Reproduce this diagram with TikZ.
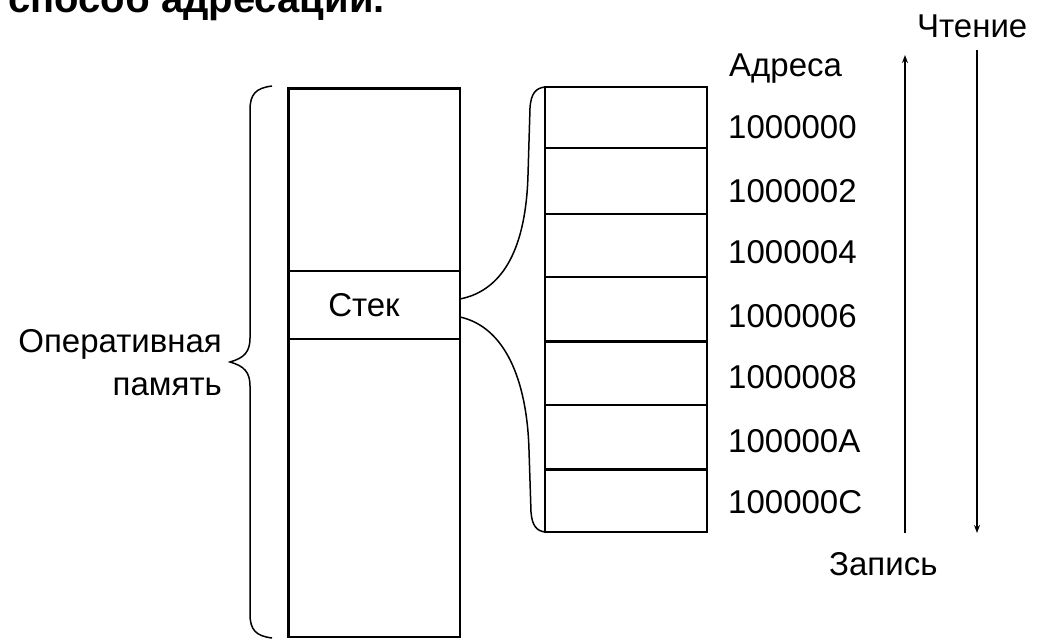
\documentclass[tikz,border=0pt]{standalone}
\usepackage{fontspec}
\setmainfont{Liberation Sans}
\usetikzlibrary{arrows.meta}
\begin{document}
\begin{tikzpicture}[x=1pt,y=-1pt,
  lbl/.style={inner sep=0pt, font=\fontsize{33}{36}\selectfont},
  thinln/.style={line width=1.4pt},
  heavy/.style={line width=3pt},
  brace/.style={line width=1.5pt},
  arr/.style={line width=1.4pt, -{Stealth[length=8pt,width=6pt]}}
]
\useasboundingbox (0,0) rectangle (1037,640);
\fill[white] (0,0) rectangle (1037,640);
% title (cut at the top)
\begin{scope}
\clip (0,0) rectangle (1037,640);
\node[anchor=base east, inner sep=0pt, font=\bfseries\fontsize{40}{44}\selectfont] (title) at (385,12) {способ адресации.};
\end{scope}
% memory column
\coordinate (mtl) at (288,88);
\coordinate (mbr) at (460,637);
\draw[thinln] (mtl) rectangle (mbr);
\draw[heavy] (288,637) -- (mtl) -- (460,88);
\draw[thinln] (288,271) -- (460,271);
\draw[thinln] (288,339) -- (460,339);
\node[lbl, anchor=base] (stek) at (364,316) {Стек};
% left brace
\coordinate (lb1) at (272,86);
\coordinate (lbtip) at (230,362);
\coordinate (lb2) at (272,638);
\draw[brace] (lb1) .. controls (256,88) and (250,94) .. (250,110) -- (250,338)
  .. controls (250,352) and (244,358) .. (lbtip)
  .. controls (244,366) and (250,372) .. (250,386) -- (250,614)
  .. controls (250,630) and (256,636) .. (lb2);
\node[lbl, anchor=base east] (op) at (222,352) {Оперативная};
\node[lbl, anchor=base east] (pam) at (222,395) {память};
% stack detail column
\coordinate (stl) at (545,87);
\coordinate (sbr) at (707,532);
\draw[thinln] (stl) rectangle (sbr);
\foreach \y in {148,214,277,405} \draw[thinln] (545,\y) -- (707,\y);
\foreach \y in {341,469} \draw[heavy] (545,\y) -- (707,\y);
% split brace from stack to detail
\coordinate (sr1) at (460,299);
\coordinate (sr2) at (460,317);
\coordinate (dt) at (545,87);
\coordinate (db) at (545,532);
\draw[brace] (sr1) .. controls (505,290) and (526,245) .. (528,175) -- (530,108)
  .. controls (531,93) and (536,88) .. (dt);
\draw[brace] (sr2) .. controls (505,327) and (527,380) .. (529,450) -- (531,512)
  .. controls (532,526) and (537,531) .. (db);
% addresses
\node[lbl, anchor=base west] (adr) at (729,76) {Адреса};
\node[lbl, anchor=base west] (a0) at (728,138) {1000000};
\node[lbl, anchor=base west] (a2) at (728,202) {1000002};
\node[lbl, anchor=base west] (a4) at (728,263) {1000004};
\node[lbl, anchor=base west] (a6) at (728,327) {1000006};
\node[lbl, anchor=base west] (a8) at (728,388) {1000008};
\node[lbl, anchor=base west] (aA) at (728,452) {100000A};
\node[lbl, anchor=base west] (aC) at (728,513) {100000C};
% arrows
\coordinate (wb) at (905,533);
\coordinate (wt) at (905,55);
\coordinate (rt) at (977,50);
\coordinate (rb) at (977,533);
\draw[arr] (wb) -- (wt);
\draw[arr] (rt) -- (rb);
\node[lbl, anchor=base west] (read) at (917,37) {Чтение};
\node[lbl, anchor=base west] (write) at (829,575) {Запись};
\end{tikzpicture}
\end{document}
